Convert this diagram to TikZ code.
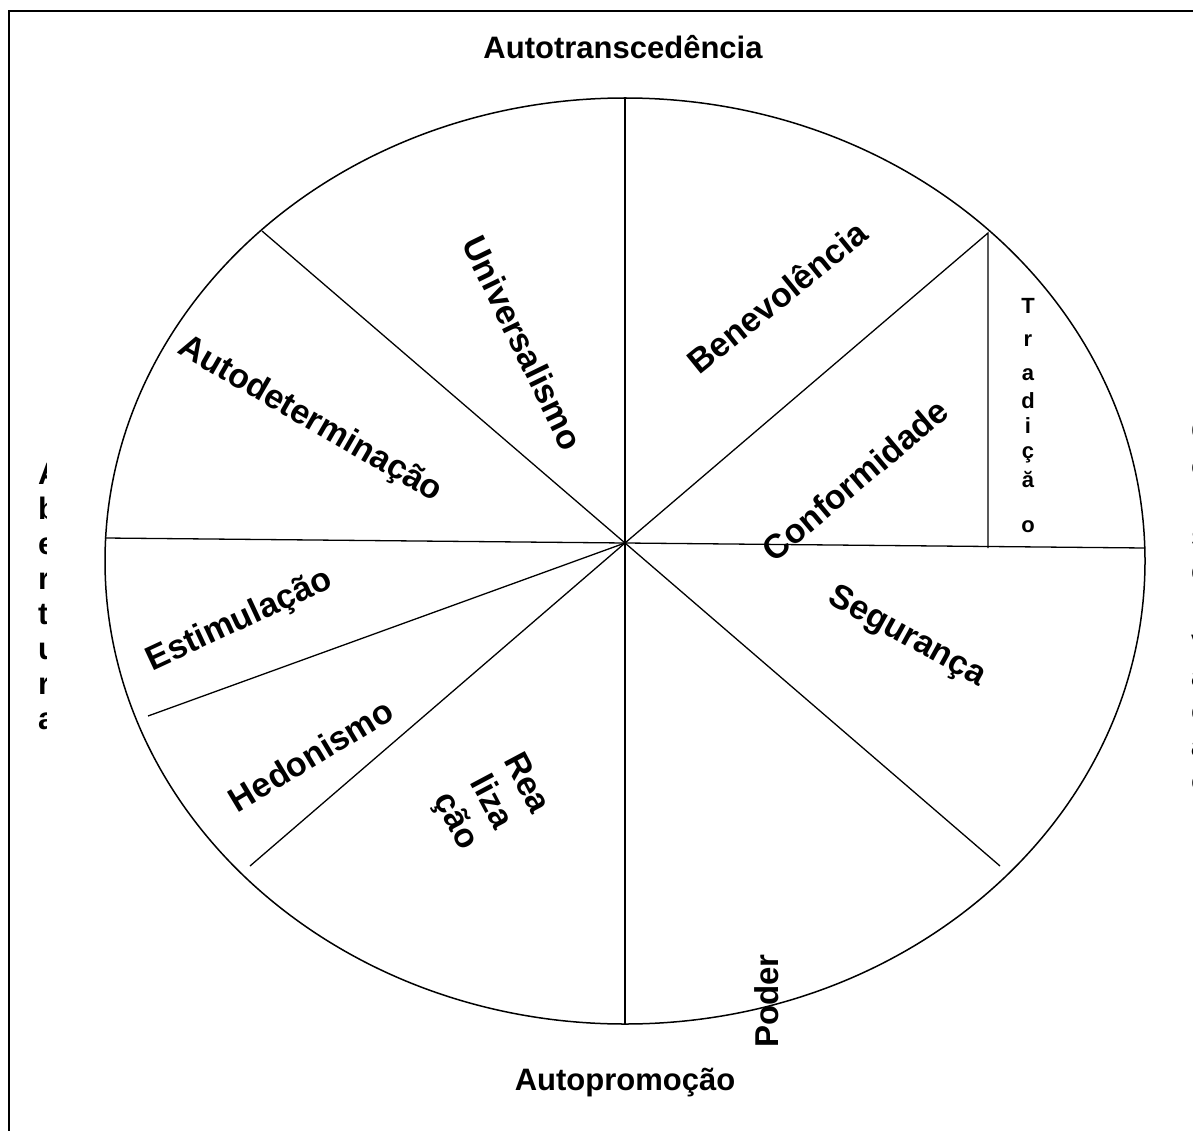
\documentclass[tikz,border=0pt]{standalone}
\usepackage{fontspec}
\setmainfont{Liberation Sans}
\begin{document}
\begin{tikzpicture}[x=1pt,y=-1pt,
  lbl/.style={font=\bfseries\fontsize{31}{36}\selectfont, inner sep=0pt},
  big/.style={font=\bfseries\fontsize{34}{40}\selectfont, inner sep=0pt},
  small/.style={font=\bfseries\fontsize{22}{26}\selectfont, inner sep=0pt},
  spoke/.style={line width=1.3pt},
  frame/.style={line width=2pt}]
\useasboundingbox (0,0) rectangle (1193,1131);
% frame (partly cut by page)
\draw[frame] (9,1140) -- (9,11) -- (1200,11);
% ellipse
\coordinate (C) at (625,561);
\draw[line width=1.5pt] (C) ellipse [x radius=520, y radius=463];
% spokes
\coordinate (O) at (625,543);
\coordinate (pT) at (625,98);
\coordinate (pB) at (625,1024);
\coordinate (pL) at (105,538);
\coordinate (pR) at (1145,548);
\coordinate (pUL) at (262,231);
\coordinate (pLR) at (1000,866);
\coordinate (pLL) at (250,866);
\coordinate (pEH) at (148,716);
\coordinate (apex) at (988,233);
\coordinate (foot) at (988,548);
\draw[spoke] (O) -- (pT);
\draw[spoke] (O) -- (pB);
\draw[spoke] (O) -- (pL);
\draw[spoke] (O) -- (pR);
\draw[spoke] (O) -- (pUL);
\draw[spoke] (O) -- (pLR);
\draw[spoke] (O) -- (pLL);
\draw[spoke] (O) -- (pEH);
\draw[spoke] (O) -- (apex) -- (foot);
% titles
\node[lbl] (top) at (623,47) {Autotranscedência};
\node[lbl] (bot) at (625,1083) {Autopromoção};
% sector labels
\node[big, rotate=-64] (univ) at (523,343) {Universalismo};
\node[big, rotate=39] (bene) at (777,297) {Benevolência};
\node[big, rotate=-30] (autod) at (310,420) {Autodeterminação};
\node[big, rotate=40] (conf) at (855,480) {Conformidade};
\node[big, rotate=-29] (seg) at (907,637) {Segurança};
\node[big, rotate=25] (estim) at (240,621) {Estimulação};
\node[big, rotate=31] (hedo) at (311,755) {Hedonismo};
\node[big, rotate=-62, align=center] (real) at (490,803) {Rea\\liza\\ção};
\node[font=\bfseries\fontsize{33}{38}\selectfont, inner sep=0pt, rotate=90] (poder) at (767,1001) {Poder};
% Tradição (stacked letters)
\foreach \l/\yy [count=\i] in {T/314, r/346, a/380, d/408, i/433, ç/458, ă/487, o/532}
  \node[small, anchor=base] (trad\i) at (1028,\yy) {\l};
% Abertura (stacked, clipped)
\begin{scope}
  \clip (0,0) rectangle (46,1131);
  \foreach \l [count=\i] in {A,b,e,r,t,u,r,a}
    \node[lbl, anchor=base west] (aber\i) at (38,{484+35*(\i-1)}) {\l};
\end{scope}
% Conservação (stacked, cut by page edge)
\foreach \l [count=\i] in {C,o,n,s,e,r,v,a,ç,ã,o}
  \node[lbl, anchor=base west] (cons\i) at (1191,{441+35*(\i-1)}) {\l};
\end{tikzpicture}
\end{document}
